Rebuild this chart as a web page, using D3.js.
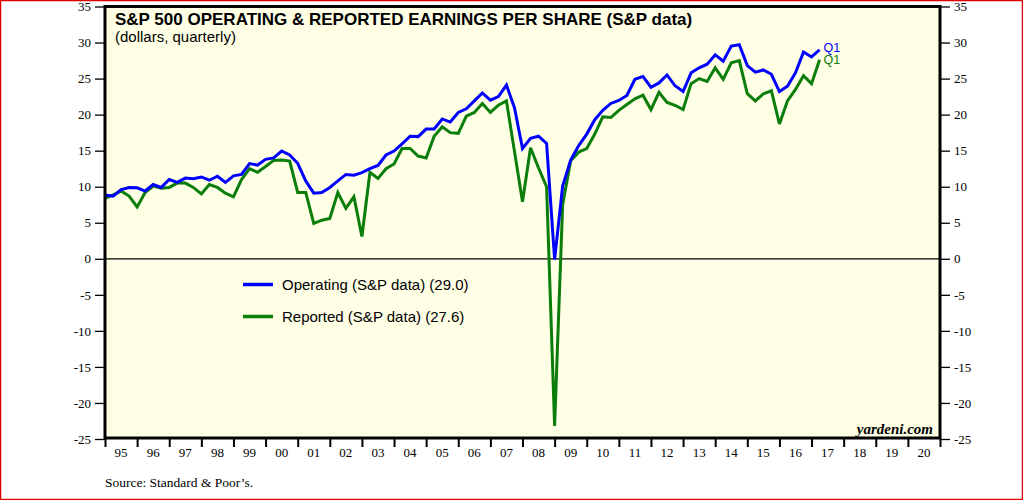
<!DOCTYPE html>
<html><head><meta charset="utf-8">
<script src="https://cdn.jsdelivr.net/npm/d3@7"></script>
<style>body{margin:0;background:#fff;} svg{display:block}</style>
</head><body><svg id="c" width="1023" height="500"></svg>
<script>
const quarters = ["1994Q4",
 "1995Q1","1995Q2","1995Q3","1995Q4","1996Q1","1996Q2","1996Q3","1996Q4",
 "1997Q1","1997Q2","1997Q3","1997Q4","1998Q1","1998Q2","1998Q3","1998Q4",
 "1999Q1","1999Q2","1999Q3","1999Q4","2000Q1","2000Q2","2000Q3","2000Q4",
 "2001Q1","2001Q2","2001Q3","2001Q4","2002Q1","2002Q2","2002Q3","2002Q4",
 "2003Q1","2003Q2","2003Q3","2003Q4","2004Q1","2004Q2","2004Q3","2004Q4",
 "2005Q1","2005Q2","2005Q3","2005Q4","2006Q1","2006Q2","2006Q3","2006Q4",
 "2007Q1","2007Q2","2007Q3","2007Q4","2008Q1","2008Q2","2008Q3","2008Q4",
 "2009Q1","2009Q2","2009Q3","2009Q4","2010Q1","2010Q2","2010Q3","2010Q4",
 "2011Q1","2011Q2","2011Q3","2011Q4","2012Q1","2012Q2","2012Q3","2012Q4",
 "2013Q1","2013Q2","2013Q3","2013Q4","2014Q1","2014Q2","2014Q3","2014Q4",
 "2015Q1","2015Q2","2015Q3","2015Q4","2016Q1","2016Q2","2016Q3","2016Q4",
 "2017Q1"];

const operating = [8.85,
 8.7,9.6,9.9,9.85, 9.4,10.3,9.9,11.0, 10.6,11.2,11.1,11.35, 10.9,11.45,10.6,11.5,
 11.7,13.2,13.0,13.8, 14.0,14.95,14.4,13.25, 10.8,9.1,9.2,9.9, 10.8,11.7,11.6,11.95,
 12.5,12.95,14.4,14.95, 15.95,17.0,16.95,18.0, 18.0,19.4,18.97,20.3, 20.8,21.9,23.0,22.0,
 22.5,24.1,20.96,15.3, 16.7,17.0,16.0,-0.1, 10.1,13.7,15.7,17.3, 19.3,20.6,21.55,21.97,
 22.66,24.9,25.3,23.8, 24.4,25.5,24.0,23.2, 25.8,26.5,27.0,28.3, 27.4,29.5,29.7,26.8,
 25.9,26.2,25.6,23.2, 23.95,25.8,28.7,28.0, 29.0];

const reported = [8.4,
 8.85,9.4,8.7,7.2, 9.2,10.1,9.8,9.9, 10.5,10.5,9.9,9.0, 10.3,9.9,9.1,8.6,
 11.0,12.5,12.0,12.8, 13.65,13.7,13.55,9.2, 9.2,4.9,5.35,5.6, 9.2,7.0,8.6,3.1,
 12.0,11.15,12.5,13.15, 15.3,15.3,14.25,14.0, 17.0,18.3,17.5,17.4, 19.8,20.3,21.55,20.3,
 21.3,21.9,14.9,7.9, 15.4,12.6,10.0,-23.2, 7.5,13.6,14.8,15.3, 17.3,19.7,19.6,20.6,
 21.4,22.2,22.7,20.7, 23.1,21.7,21.3,20.7, 24.3,25.0,24.6,26.5, 24.9,27.2,27.5,22.9,
 21.9,22.9,23.3,18.7, 21.9,23.5,25.4,24.3, 27.6];

const yearLabels = ["95","96","97","98","99","00","01","02","03","04","05","06","07",
 "08","09","10","11","12","13","14","15","16","17","18","19","20"];
const yTicks = [-25,-20,-15,-10,-5,0,5,10,15,20,25,30,35];
const seriesNames = ["Operating (S&P data) (29.0)","Reported (S&P data) (27.6)"];
const lastLabels = ["Q1","Q1"];
const titleText = "S&P 500 OPERATING & REPORTED EARNINGS PER SHARE (S&P data)";
const subtitleText = "(dollars, quarterly)";
const sourceText = "Source: Standard & Poor\u2019s.";
const creditText = "yardeni.com";

const colors = ["#0000ff","#0a7d0a"];
const svg = d3.select("#c");
const L = 105, R = 940, T = 6.5, B = 439;
const qToYear = q => +q.slice(0,4) + (+q.slice(5))/4;
const x = d3.scaleLinear().domain([1995, 2021]).range([L, R]);
const y = d3.scaleLinear().domain([-25, 35]).range([B, T]);

// outer red border
svg.append("rect").attr("x",0.5).attr("y",0.5).attr("width",1022).attr("height",499)
  .attr("fill","#fff").attr("stroke","#e00000").attr("stroke-width",1.5);

// plot background
svg.append("rect").attr("x",L).attr("y",T).attr("width",R-L).attr("height",B-T)
  .attr("fill","#ffffe6");

// zero line
svg.append("line").attr("x1",L).attr("x2",R).attr("y1",y(0)).attr("y2",y(0))
  .attr("stroke","#000").attr("stroke-width",1.2);

// series lines
const seriesData = [operating, reported];
const line = d3.line().x((d,i)=>x(qToYear(quarters[i]))).y(d=>y(d));
[1,0].forEach(s=>{
  svg.append("path").datum(seriesData[s]).attr("d",line)
    .attr("fill","none").attr("stroke",colors[s]).attr("stroke-width",3)
    .attr("stroke-linejoin","miter").attr("stroke-miterlimit",3);
});

// end labels
const lastX = x(qToYear(quarters[quarters.length-1]));
svg.append("text").attr("x",lastX+4).attr("y",52).text(lastLabels[0])
  .attr("fill",colors[0]).attr("font-family","Liberation Sans, Arial, sans-serif").attr("font-size",12.5);
svg.append("text").attr("x",lastX+4).attr("y",64).text(lastLabels[1])
  .attr("fill",colors[1]).attr("font-family","Liberation Sans, Arial, sans-serif").attr("font-size",12.5);

// axes
const axisFont = "Liberation Serif, Times New Roman, serif";
const fmt = d => String(d);
const la = svg.append("g").attr("transform",`translate(${L},0)`)
  .call(d3.axisLeft(y).tickValues(yTicks).tickSize(10).tickPadding(4).tickFormat(fmt));
const ra = svg.append("g").attr("transform",`translate(${R},0)`)
  .call(d3.axisRight(y).tickValues(yTicks).tickSize(10).tickPadding(4).tickFormat(fmt));
[la,ra].forEach(g=>{
  g.select(".domain").remove();
  g.selectAll("line").attr("stroke","#000").attr("stroke-width",1.3);
  g.selectAll("text").attr("font-family",axisFont).attr("font-size",13).attr("fill","#000");
});
const ba = svg.append("g").attr("transform",`translate(0,${B})`)
  .call(d3.axisBottom(x).tickValues(d3.range(1995,2022)).tickSize(8).tickFormat(""));
ba.select(".domain").remove();
ba.selectAll("line").attr("stroke","#000").attr("stroke-width",2);
svg.append("g").selectAll("text").data(yearLabels).join("text")
  .attr("x",(d,i)=>x(1995+i+0.5)).attr("y",457).attr("text-anchor","middle")
  .attr("font-family",axisFont).attr("font-size",13).text(d=>d);

// frame
svg.append("rect").attr("x",L).attr("y",T).attr("width",R-L).attr("height",B-T-1)
  .attr("fill","none").attr("stroke","#000").attr("stroke-width",3);

// titles
svg.append("text").attr("x",115).attr("y",25).text(titleText)
  .attr("font-family","Liberation Sans, Arial, sans-serif").attr("font-size",17).attr("font-weight","bold");
svg.append("text").attr("x",115).attr("y",42).text(subtitleText)
  .attr("font-family","Liberation Sans, Arial, sans-serif").attr("font-size",15);

// legend
seriesNames.forEach((n,i)=>{
  const ly = 284.5 + i*32;
  svg.append("line").attr("x1",243).attr("x2",273).attr("y1",ly).attr("y2",ly)
    .attr("stroke",colors[i]).attr("stroke-width",3.5);
  svg.append("text").attr("x",282).attr("y",ly+5.5).text(n)
    .attr("font-family","Liberation Sans, Arial, sans-serif").attr("font-size",15);
});

// credit & source
svg.append("text").attr("x",933).attr("y",434).attr("text-anchor","end").text(creditText)
  .attr("font-family",axisFont).attr("font-size",15).attr("font-style","italic").attr("font-weight","bold");
svg.append("text").attr("x",105).attr("y",487).text(sourceText)
  .attr("font-family",axisFont).attr("font-size",13.5);
</script></body></html>
